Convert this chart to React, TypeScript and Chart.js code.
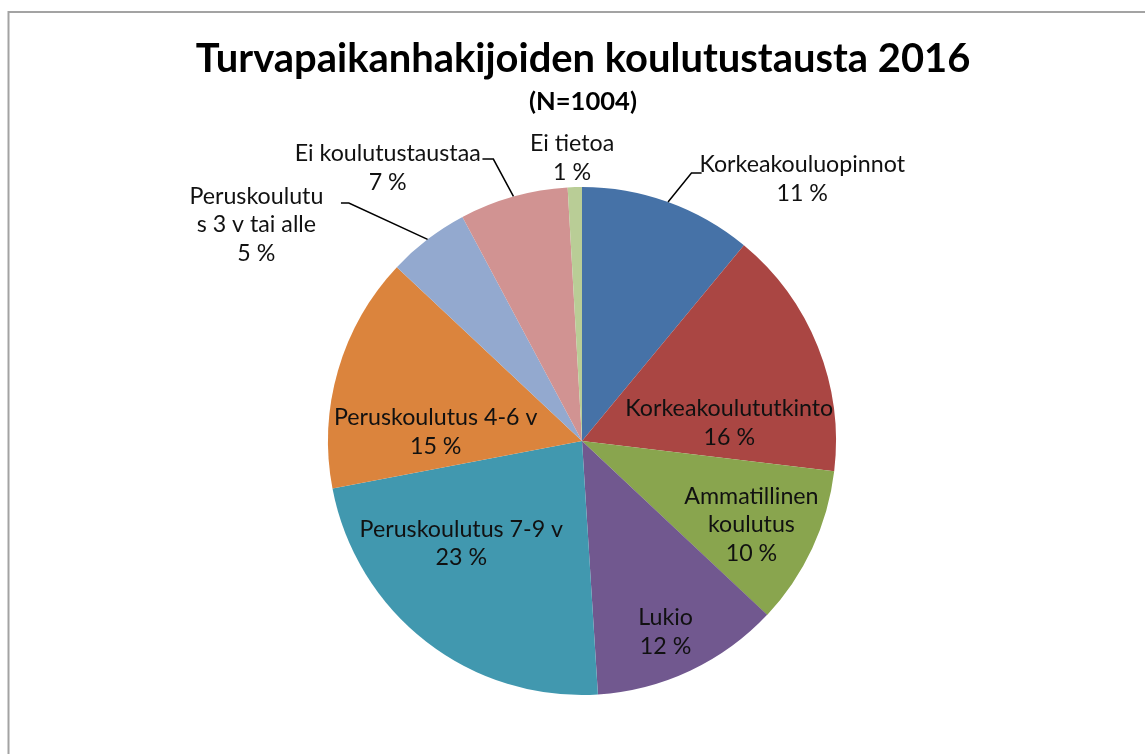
import React, { useEffect, useRef } from "react";
import { Chart, registerables } from "chart.js";

Chart.register(...registerables);

const TITLE = "Turvapaikanhakijoiden koulutustausta 2016";
const SUBTITLE = "(N=1004)";

const categories = [
  "Korkeakouluopinnot",
  "Korkeakoulututkinto",
  "Ammatillinen koulutus",
  "Lukio",
  "Peruskoulutus 7-9 v",
  "Peruskoulutus 4-6 v",
  "Peruskoulutus 3 v tai alle",
  "Ei koulutustaustaa",
  "Ei tietoa",
];

// label text as wrapped in the reference
const labelLines = [
  ["Korkeakouluopinnot"],
  ["Korkeakoulututkinto"],
  ["Ammatillinen", "koulutus"],
  ["Lukio"],
  ["Peruskoulutus 7-9 v"],
  ["Peruskoulutus 4-6 v"],
  ["Peruskoulutu", "s 3 v tai alle"],
  ["Ei koulutustaustaa"],
  ["Ei tietoa"],
];

const shares = [11.0, 15.9, 10.1, 12.0, 23.0, 15.0, 5.2, 6.9, 0.9];

const colors = [
  "#4672A7",
  "#AA4643",
  "#89A54E",
  "#71588F",
  "#4198AF",
  "#DB843D",
  "#93A9CF",
  "#D19392",
  "#B9CD96",
];

// label block centres, in units of the pie radius relative to the pie centre
const labelPos: [number, number][] = [
  [0.867, -1.031],
  [0.58, -0.071],
  [0.667, 0.329],
  [0.329, 0.753],
  [-0.475, 0.404],
  [-0.576, -0.035],
  [-1.282, -0.851],
  [-0.765, -1.075],
  [-0.039, -1.114],
];

// leader lines: elbow point and end x (radius units), or null
const leaders: ([number, number, number] | null)[] = [
  [0.431, -1.055, 0.471],
  null,
  null,
  null,
  null,
  null,
  [-0.918, -0.937, -0.949],
  [-0.349, -1.11, -0.392],
  null,
];

const FONT = "Lato, 'Open Sans', 'DejaVu Sans', sans-serif";

function fitSize(ctx: CanvasRenderingContext2D, text: string, weight: string, target: number) {
  ctx.font = `${weight} 20px ${FONT}`;
  const w = ctx.measureText(text).width;
  return (20 * target) / w;
}

const decorPlugin = {
  id: "decor",
  afterDraw(chart: any) {
    const ctx: CanvasRenderingContext2D = chart.ctx;
    ctx.save();
    // frame
    ctx.strokeStyle = "#a3a3a3";
    ctx.lineWidth = 2;
    ctx.beginPath();
    ctx.moveTo(8.5, chart.height);
    ctx.lineTo(8.5, 12);
    ctx.lineTo(chart.width, 12);
    ctx.stroke();

    // title
    ctx.fillStyle = "#000";
    ctx.textAlign = "center";
    ctx.textBaseline = "alphabetic";
    const ts = fitSize(ctx, TITLE, "bold", 775);
    ctx.font = `bold ${ts}px ${FONT}`;
    ctx.fillText(TITLE, 583, 72);
    const ss = fitSize(ctx, SUBTITLE, "bold", 108);
    ctx.font = `bold ${ss}px ${FONT}`;
    ctx.fillText(SUBTITLE, 583, 110);

    // labels
    const meta = chart.getDatasetMeta(0);
    const ls = fitSize(ctx, "Korkeakoulututkinto", "normal", 208);
    const lh = 28.5;
    meta.data.forEach((arc: any, i: number) => {
      const cx = arc.x;
      const cy = arc.y;
      const R = arc.outerRadius;
      const lines = [...labelLines[i], Math.round(shares[i]) + " %"];
      const bx = cx + labelPos[i][0] * R;
      const by = cy + labelPos[i][1] * R;
      ctx.font = `normal ${ls}px ${FONT}`;
      ctx.fillStyle = "#111";
      ctx.textAlign = "center";
      ctx.textBaseline = "middle";
      const top = by - ((lines.length - 1) * lh) / 2;
      lines.forEach((t, k) => ctx.fillText(t, bx, top + k * lh));
      const ld = leaders[i];
      if (ld) {
        const mid = (arc.startAngle + arc.endAngle) / 2;
        ctx.strokeStyle = "#000";
        ctx.lineWidth = 1.5;
        ctx.beginPath();
        ctx.moveTo(cx + Math.cos(mid) * R, cy + Math.sin(mid) * R);
        ctx.lineTo(cx + ld[0] * R, cy + ld[1] * R);
        ctx.lineTo(cx + ld[2] * R, cy + ld[1] * R);
        ctx.stroke();
      }
    });
    ctx.restore();
  },
};

export default function App() {
  const ref = useRef<HTMLCanvasElement>(null);
  useEffect(() => {
    if (!ref.current) return;
    const chart = new Chart(ref.current, {
      type: "pie",
      data: {
        labels: categories,
        datasets: [
          {
            data: shares,
            backgroundColor: colors,
            borderWidth: 0,
          },
        ],
      },
      options: {
        responsive: false,
        animation: false,
        layout: { padding: { top: 187, bottom: 59, left: 19, right: 0 } },
        plugins: {
          legend: { display: false },
          tooltip: { enabled: false },
          title: { display: false },
        },
      },
      plugins: [decorPlugin],
    });
    return () => chart.destroy();
  }, []);
  return (
    <div style={{ position: "fixed", left: 0, top: 0, width: 1145, height: 754, background: "#fff" }}>
      <canvas ref={ref} width={1145} height={754} style={{ display: "block" }} />
    </div>
  );
}
